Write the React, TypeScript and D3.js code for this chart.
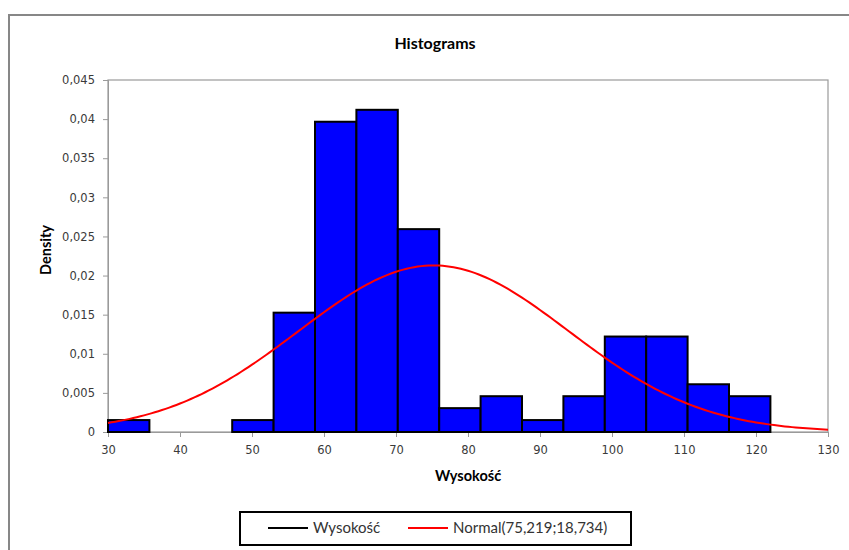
import React, { useEffect, useRef } from 'react';
import * as d3 from 'd3';

// histogram bins (lower edges), counts per bin
const binStarts = [30, 35.75, 41.5, 47.25, 53, 58.75, 64.5, 70.25, 76, 81.75, 87.5, 93.25, 99, 104.75, 110.5, 116.25];
const binWidth = 5.75;
const binCounts = [1, 0, 0, 1, 10, 26, 27, 17, 2, 3, 1, 3, 8, 8, 4, 3];

// normal fit shown in the legend
const normalMean = 75.219;
const normalSd = 18.734;

const xTicks = [30, 40, 50, 60, 70, 80, 90, 100, 110, 120, 130];
const yTicks = [0, 0.005, 0.01, 0.015, 0.02, 0.025, 0.03, 0.035, 0.04, 0.045];

const legendItems = [
  { label: 'Wysokość', color: '#000000' },
  { label: 'Normal(75,219;18,734)', color: '#ff0000' },
];

function Histogram() {
  const ref = useRef(null);

  useEffect(() => {
    const svg = d3.select(ref.current);
    svg.selectAll('*').remove();

    const width = 849;
    const height = 550;
    const margin = { top: 80, right: 21, bottom: 118, left: 108 };
    const uiFont = 'Lato, "Open Sans", sans-serif';
    const tickFont = '"DejaVu Sans", Verdana, sans-serif';

    const total = d3.sum(binCounts);
    const bins = binStarts.map((x0, i) => ({
      x0,
      x1: x0 + binWidth,
      density: binCounts[i] / (total * binWidth),
    }));

    const x = d3.scaleLinear().domain([30, 130]).range([margin.left, width - margin.right]);
    const y = d3.scaleLinear().domain([0, 0.045]).range([height - margin.bottom, margin.top]);

    svg.attr('width', width).attr('height', height);

    // outer chart frame (runs off the picture at right/bottom)
    svg
      .append('rect')
      .attr('x', 9)
      .attr('y', 15)
      .attr('width', 860)
      .attr('height', 560)
      .attr('fill', '#fff')
      .attr('stroke', '#878787')
      .attr('stroke-width', 2);

    // plot area
    svg
      .append('rect')
      .attr('x', x(30))
      .attr('y', y(0.045))
      .attr('width', x(130) - x(30))
      .attr('height', y(0) - y(0.045))
      .attr('fill', '#fff')
      .attr('stroke', '#9a9a9a')
      .attr('stroke-width', 1.2);

    // title
    svg
      .append('text')
      .attr('x', 435)
      .attr('y', 49)
      .attr('text-anchor', 'middle')
      .style('font-family', uiFont)
      .style('font-size', '16px')
      .style('font-weight', 'bold')
      .text('Histograms');

    // y axis
    const yAxis = svg
      .append('g')
      .attr('transform', `translate(${margin.left},0)`)
      .call(
        d3
          .axisLeft(y)
          .tickValues(yTicks)
          .tickSize(5)
          .tickPadding(8)
          .tickFormat((d) => (d === 0 ? '0' : d3.format('.3~f')(d).replace('.', ',')))
      );
    yAxis.select('.domain').attr('stroke', '#9a9a9a');
    yAxis.selectAll('line').attr('stroke', '#9a9a9a');
    yAxis
      .selectAll('text')
      .attr('fill', '#3a3a3a')
      .style('font-family', tickFont)
      .style('font-size', '11.5px');

    // x axis
    const xAxis = svg
      .append('g')
      .attr('transform', `translate(0,${height - margin.bottom})`)
      .call(d3.axisBottom(x).tickValues(xTicks).tickSize(5).tickPadding(9));
    xAxis.select('.domain').attr('stroke', '#9a9a9a');
    xAxis.selectAll('line').attr('stroke', '#9a9a9a');
    xAxis
      .selectAll('text')
      .attr('fill', '#3a3a3a')
      .style('font-family', tickFont)
      .style('font-size', '11.5px');

    // bars
    svg
      .append('g')
      .selectAll('rect')
      .data(bins)
      .join('rect')
      .attr('x', (d) => x(d.x0))
      .attr('y', (d) => y(d.density))
      .attr('width', (d) => x(d.x1) - x(d.x0))
      .attr('height', (d) => y(0) - y(d.density))
      .attr('fill', '#0000ff')
      .attr('stroke', '#000')
      .attr('stroke-width', 2);

    // normal density curve
    const pdf = (v) =>
      Math.exp(-0.5 * ((v - normalMean) / normalSd) ** 2) / (normalSd * Math.sqrt(2 * Math.PI));
    const curve = d3.range(30, 130.01, 0.5).map((v) => [v, pdf(v)]);
    svg
      .append('path')
      .datum(curve)
      .attr('fill', 'none')
      .attr('stroke', '#ff0000')
      .attr('stroke-width', 2)
      .attr(
        'd',
        d3
          .line()
          .x((d) => x(d[0]))
          .y((d) => y(d[1]))
      );

    // axis titles
    svg
      .append('text')
      .attr('x', 468)
      .attr('y', 481)
      .attr('text-anchor', 'middle')
      .style('font-family', uiFont)
      .style('font-size', '14.5px')
      .style('font-weight', 'bold')
      .text('Wysokość');

    svg
      .append('text')
      .attr('transform', `translate(51,250) rotate(-90)`)
      .attr('text-anchor', 'middle')
      .style('font-family', uiFont)
      .style('font-size', '14.5px')
      .style('font-weight', 'bold')
      .text('Density');

    // legend
    const legend = svg.append('g');
    legend
      .append('rect')
      .attr('x', 240)
      .attr('y', 512)
      .attr('width', 391)
      .attr('height', 33)
      .attr('fill', '#fff')
      .attr('stroke', '#000')
      .attr('stroke-width', 2);

    const itemX = [268, 408];
    legendItems.forEach((item, i) => {
      legend
        .append('line')
        .attr('x1', itemX[i])
        .attr('x2', itemX[i] + 40)
        .attr('y1', 528)
        .attr('y2', 528)
        .attr('stroke', item.color)
        .attr('stroke-width', 2);
      legend
        .append('text')
        .attr('x', itemX[i] + 45)
        .attr('y', 533)
        .attr('fill', '#333')
        .style('font-family', uiFont)
        .style('font-size', '15px')
        .text(item.label);
    });
  }, []);

  return <svg ref={ref} style={{ position: 'absolute', left: 0, top: 0, display: 'block' }}></svg>;
}

export default function App() {
  return <Histogram />;
}
